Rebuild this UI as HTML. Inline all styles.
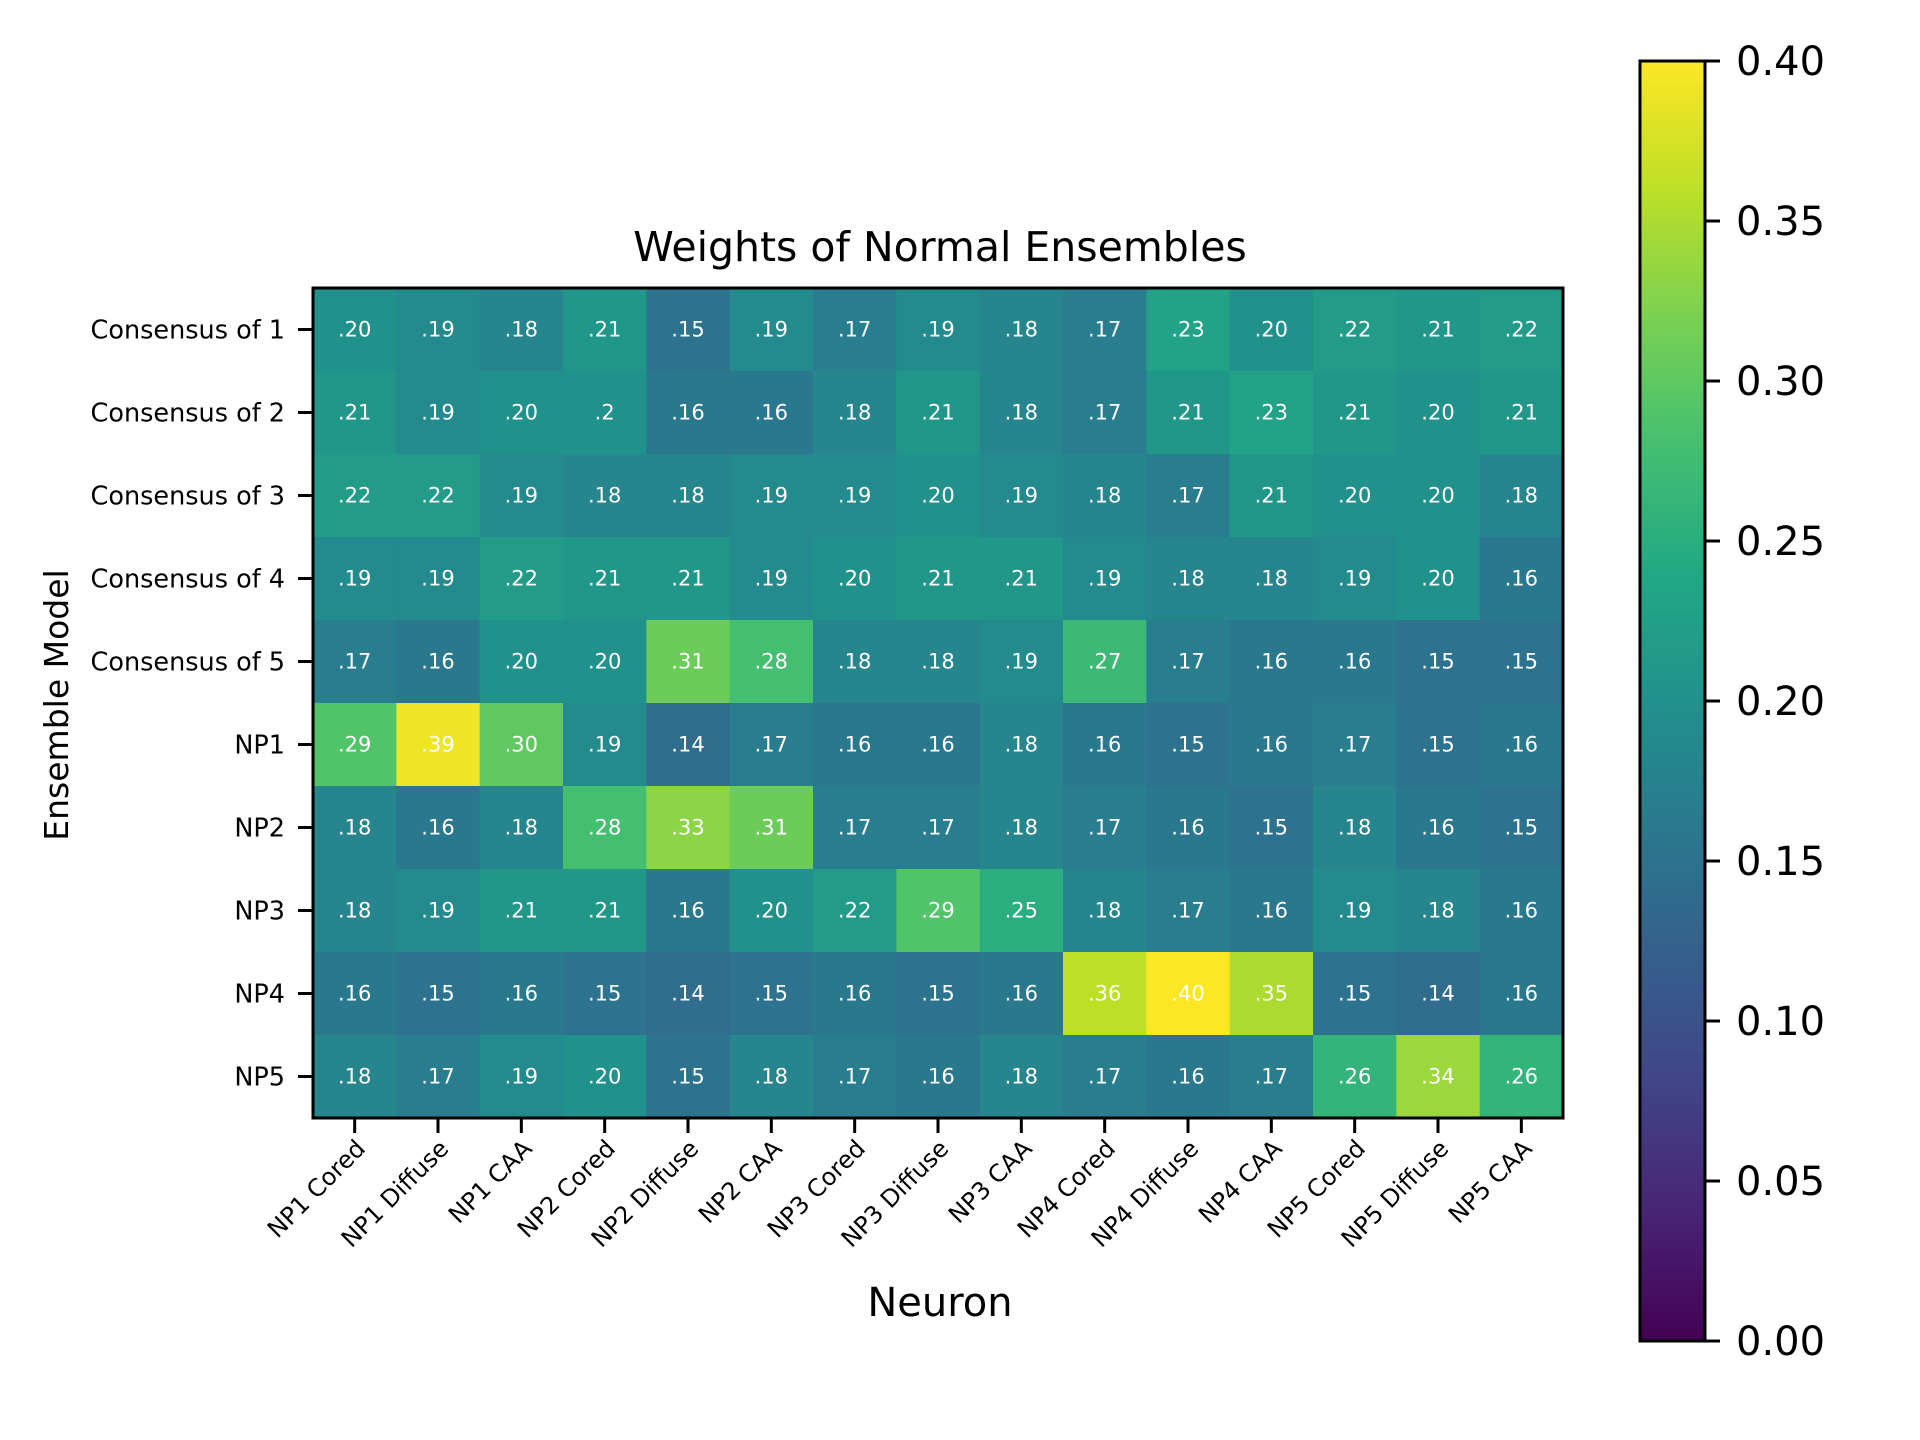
<!DOCTYPE html>
<html><head><meta charset="utf-8"><style>
html,body{margin:0;padding:0;background:#fff;}
svg{display:block;font-family:"DejaVu Sans","Liberation Sans",sans-serif;}
</style></head><body>
<svg id="chart" width="1920" height="1440" viewBox="0 0 1920 1440" xmlns="http://www.w3.org/2000/svg">
<defs>
<linearGradient id="vir" x1="0" y1="1" x2="0" y2="0">
<stop offset="0" stop-color="#440154"/><stop offset="0.1" stop-color="#482475"/><stop offset="0.2" stop-color="#414487"/><stop offset="0.3" stop-color="#355f8d"/><stop offset="0.4" stop-color="#2a788e"/><stop offset="0.5" stop-color="#21918c"/><stop offset="0.6" stop-color="#22a884"/><stop offset="0.7" stop-color="#44bf70"/><stop offset="0.8" stop-color="#7ad151"/><stop offset="0.9" stop-color="#bddf26"/><stop offset="1" stop-color="#fde725"/>
</linearGradient>
</defs>
<text x="940" y="261" font-size="41" text-anchor="middle">Weights of Normal Ensembles</text>
<g id="cells"></g>
<g id="xticks"></g>
<g id="yticks"></g>
<rect x="313" y="288" width="1250" height="830" fill="none" stroke="#000" stroke-width="3"/>
<text x="940" y="1316" font-size="40" text-anchor="middle">Neuron</text>
<text x="0" y="0" font-size="33" text-anchor="middle" transform="translate(68,705) rotate(-90)">Ensemble Model</text>
<rect x="1640" y="61" width="65" height="1280" fill="url(#vir)" stroke="#000" stroke-width="3"/>
<g id="cbticks"></g>
</svg>
<script>
const xLabels = ["NP1 Cored","NP1 Diffuse","NP1 CAA","NP2 Cored","NP2 Diffuse","NP2 CAA","NP3 Cored","NP3 Diffuse","NP3 CAA","NP4 Cored","NP4 Diffuse","NP4 CAA","NP5 Cored","NP5 Diffuse","NP5 CAA"];
const yLabels = ["Consensus of 1","Consensus of 2","Consensus of 3","Consensus of 4","Consensus of 5","NP1","NP2","NP3","NP4","NP5"];
const row0 = [.20,.19,.18,.21,.15,.19,.17,.19,.18,.17,.23,.20,.22,.21,.22];
const row1 = [.21,.19,.20,.20,.16,.16,.18,.21,.18,.17,.21,.23,.21,.20,.21];
const row2 = [.22,.22,.19,.18,.18,.19,.19,.20,.19,.18,.17,.21,.20,.20,.18];
const row3 = [.19,.19,.22,.21,.21,.19,.20,.21,.21,.19,.18,.18,.19,.20,.16];
const row4 = [.17,.16,.20,.20,.31,.28,.18,.18,.19,.27,.17,.16,.16,.15,.15];
const row5 = [.29,.39,.30,.19,.14,.17,.16,.16,.18,.16,.15,.16,.17,.15,.16];
const row6 = [.18,.16,.18,.28,.33,.31,.17,.17,.18,.17,.16,.15,.18,.16,.15];
const row7 = [.18,.19,.21,.21,.16,.20,.22,.29,.25,.18,.17,.16,.19,.18,.16];
const row8 = [.16,.15,.16,.15,.14,.15,.16,.15,.16,.36,.40,.35,.15,.14,.16];
const row9 = [.18,.17,.19,.20,.15,.18,.17,.16,.18,.17,.16,.17,.26,.34,.26];
const labelOverrides = {"1,3": ".2"};
const cbTicks = [0,0.05,0.10,0.15,0.20,0.25,0.30,0.35,0.40];
const cbTickLabels = ["0.00","0.05","0.10","0.15","0.20","0.25","0.30","0.35","0.40"];
const vmin = 0, vmax = 0.40;

const rows = [row0,row1,row2,row3,row4,row5,row6,row7,row8,row9];
const NS = "http://www.w3.org/2000/svg";
const L=313, T=288, W=1250, H=830;
const cw = W/xLabels.length, ch = H/yLabels.length;
const xPos = i => L + i*cw;
const yPos = j => T + j*ch;
const cbY = v => 1341 - (v - vmin)/(vmax - vmin)*1280;
const stops = [[68,1,84],[72,36,117],[65,68,135],[53,95,141],[42,120,142],[33,145,140],[34,168,132],[68,191,112],[122,209,81],[189,223,38],[253,231,37]];
function viridis(v){
  let t = Math.max(0, Math.min(1, (v - vmin)/(vmax - vmin)))*10;
  let i = Math.min(9, Math.floor(t)), f = t - i;
  const a = stops[i], b = stops[i+1];
  return "rgb(" + [0,1,2].map(k => Math.round(a[k] + (b[k]-a[k])*f)).join(",") + ")";
}
function mk(tag, attrs, parent){
  const e = document.createElementNS(NS, tag);
  for (const k in attrs) e.setAttribute(k, attrs[k]);
  parent.appendChild(e);
  return e;
}
const cells = document.getElementById("cells");
rows.forEach((r, j) => {
  r.forEach((v, i) => {
    const rc = mk("rect", {x: xPos(i), y: yPos(j), width: cw+0.5, height: ch+0.5, fill: viridis(v)}, cells);
    
    
    const t = mk("text", {x: xPos(i)+cw/2, y: yPos(j)+ch/2+7, "font-size": 21, fill: "#fff", "text-anchor": "middle"}, cells);
    
    
    const key = j + "," + i;
    t.textContent = labelOverrides[key] || v.toFixed(2).replace(/^0/, "");
  });
});
const xt = document.getElementById("xticks");
xLabels.forEach((lab, i) => {
  const cx = xPos(i) + cw/2;
  const tk = mk("line", {x1: cx, y1: 1118, x2: cx, y2: 1133, stroke: "#000", "stroke-width": 3}, xt);
  
  
  const t = mk("text", {x: 0, y: 0, "font-size": 24, "text-anchor": "end", transform: "translate(" + (cx+12) + ",1150) rotate(-45)"}, xt);
  
  
  t.textContent = lab;
});
const yt = document.getElementById("yticks");
yLabels.forEach((lab, j) => {
  const cy = yPos(j) + ch/2;
  const tk = mk("line", {x1: 298, y1: cy, x2: 313, y2: cy, stroke: "#000", "stroke-width": 3}, yt);
  
  
  const t = mk("text", {x: 285, y: cy+9, "font-size": 25.5, "text-anchor": "end"}, yt);
  
  
  t.textContent = lab;
});
const cb = document.getElementById("cbticks");
cbTicks.forEach((v, k) => {
  const y = cbY(v);
  const tk = mk("line", {x1: 1705, y1: y, x2: 1720, y2: y, stroke: "#000", "stroke-width": 3}, cb);
  
  
  const t = mk("text", {x: 1736, y: y+14, "font-size": 40}, cb);
  
  
  t.textContent = cbTickLabels[k];
});
</script>
</body></html>
